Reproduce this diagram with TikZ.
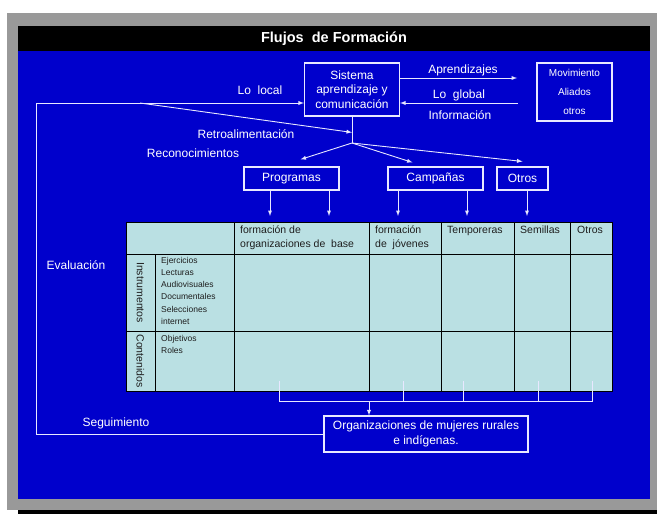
\documentclass[tikz,border=0pt]{standalone}
\usepackage{fontspec}
\setmainfont{Liberation Sans}
\usetikzlibrary{calc}
\usetikzlibrary{arrows}
\usetikzlibrary{positioning}
\definecolor{fondo}{RGB}{0,0,204}
\definecolor{celda}{RGB}{186,224,227}
\definecolor{marco}{RGB}{153,153,153}
\definecolor{trazo}{RGB}{232,232,255}
\definecolor{tinta}{RGB}{30,30,30}
\tikzset{
  caja/.style={draw=trazo,line width=1.1pt,text=white,align=center,inner sep=0pt},
  linea/.style={draw=trazo,line width=.9pt},
  flecha/.style={linea,-latex},
  etiq/.style={text=white,font=\fontsize{12}{14.5}\selectfont},
  cab/.style={anchor=north west,align=left,inner sep=0pt,text=tinta,font=\fontsize{10.5}{14}\selectfont},
  lista/.style={anchor=north west,align=left,inner sep=0pt,text=tinta,font=\fontsize{8.5}{12.2}\selectfont},
  vertical/.style={rotate=-90,text=tinta,font=\fontsize{10.5}{12}\selectfont}
}

\begin{document}
\begin{tikzpicture}[x=1pt,y=-1pt]
\useasboundingbox (0,0) rectangle (657,514);
\fill[marco] (7,13) rectangle (657,510);
\fill[black] (18,510) rectangle (657,514);
\fill[black] (18,26) rectangle (650,51);
\fill[fondo] (18,51) rectangle (650,499);
\node[text=white,font=\bfseries\fontsize{14.5}{16}\selectfont] (titulo) at (334,38.5) {Flujos\ \ de Formación};

\node[caja,etiq,minimum width=95pt,minimum height=53pt] (sistema) at (352,89.5) {Sistema\\aprendizaje y\\comunicación};
\node[caja,minimum width=75pt,minimum height=58pt,font=\fontsize{10}{19}\selectfont] (aliados) at (574.5,92) {Movimiento\\Aliados\\otros};
\node[caja,etiq,minimum width=95pt,minimum height=23pt] (progr) at (291.5,178.5) {Programas};
\node[caja,etiq,minimum width=95pt,minimum height=23pt] (campa) at (435.5,178.5) {Campañas};
\node[caja,etiq,minimum width=51pt,minimum height=23pt] (otros) at (522.5,178.5) {Otros};
\node[caja,etiq,minimum width=204pt,minimum height=36pt,font=\fontsize{12}{15}\selectfont] (orgs) at (426,434) {Organizaciones de mujeres rurales\\e indígenas.};

\node[etiq] (local) at (260,90) {Lo\ \ local};
\node[etiq] (aprend) at (463,70) {Aprendizajes};
\node[etiq] (global) at (459,95) {Lo\ \ global};
\node[etiq] (info) at (460,115) {Información};
\node[etiq] (retroal) at (246,134) {Retroalimentación};
\node[etiq] (recon) at (193,153) {Reconocimientos};
\node[etiq] (eval) at (76,265) {Evaluación};
\node[etiq] (segui) at (116,423) {Seguimiento};

\coordinate (izq) at (36,103);
\coordinate (retro) at (140,103);
\coordinate (rama) at (352,143);
\coordinate (apr) at (517,78);
\coordinate (glob) at (518,103);
\draw[flecha] (izq) -- (izq -| sistema.west);
\draw[flecha] (sistema.east |- apr) -- (apr);
\draw[flecha] (glob) -- (glob -| sistema.east);
\draw[linea] (sistema.south) -- (rama);
\draw[flecha] (retro) -- ($(sistema.south)!0.6!(rama)$);
\draw[flecha] (rama) -- ($(progr.north)+(9,-7)$);
\draw[flecha] (rama) -- ($(campa.north)+(-23,-4)$);
\draw[flecha] (rama) -- ($(otros.north)+(0,-5)$);
\draw[linea] (orgs.west) -| (izq);

\filldraw[fill=celda,draw=black,line width=.8pt] (126,222) rectangle (612,391);
\foreach \cx in {234,369,441,514,570} \draw[line width=.8pt] (\cx,222) -- (\cx,391);
\foreach \cy in {254,331} \draw[line width=.8pt] (126,\cy) -- (612,\cy);
\draw[line width=.8pt] (155,254) -- (155,391);

\node[cab] (hOrg) at (240,226) {formación de\\organizaciones de\ \ base};
\node[cab] (hJov) at (375,226) {formación\\de\ \ jóvenes};
\node[cab] (hTem) at (447,226) {Temporeras};
\node[cab] (hSem) at (520,226) {Semillas};
\node[cab] (hOtr) at (577,226) {Otros};
\node[vertical] (instr) at (140.5,292.5) {Instrumentos};
\node[vertical] (conte) at (140.5,361) {Contenidos};
\node[lista] (lInstr) at (161,257) {Ejercicios\\Lecturas\\Audiovisuales\\Documentales\\Selecciones\\internet};
\node[lista] (lConte) at (161,335) {Objetivos\\Roles};

\coordinate (p1) at (270,216);
\coordinate (p2) at (329,216);
\coordinate (c1) at (398,216);
\coordinate (c2) at (467,216);
\coordinate (o1) at (527,216);
\foreach \q/\b in {p1/progr,p2/progr,c1/campa,c2/campa,o1/otros}
  \draw[flecha] (\b.south -| \q) -- (\q);

\draw[linea] (279,381) -- (279,401) -- (592,401) -- (592,381);
\foreach \cx in {403,463,538} \draw[linea] (\cx,381) -- (\cx,401);
\coordinate (baja) at (369,401);
\draw[flecha] (baja) -- (baja |- orgs.north);
\end{tikzpicture}
\end{document}
